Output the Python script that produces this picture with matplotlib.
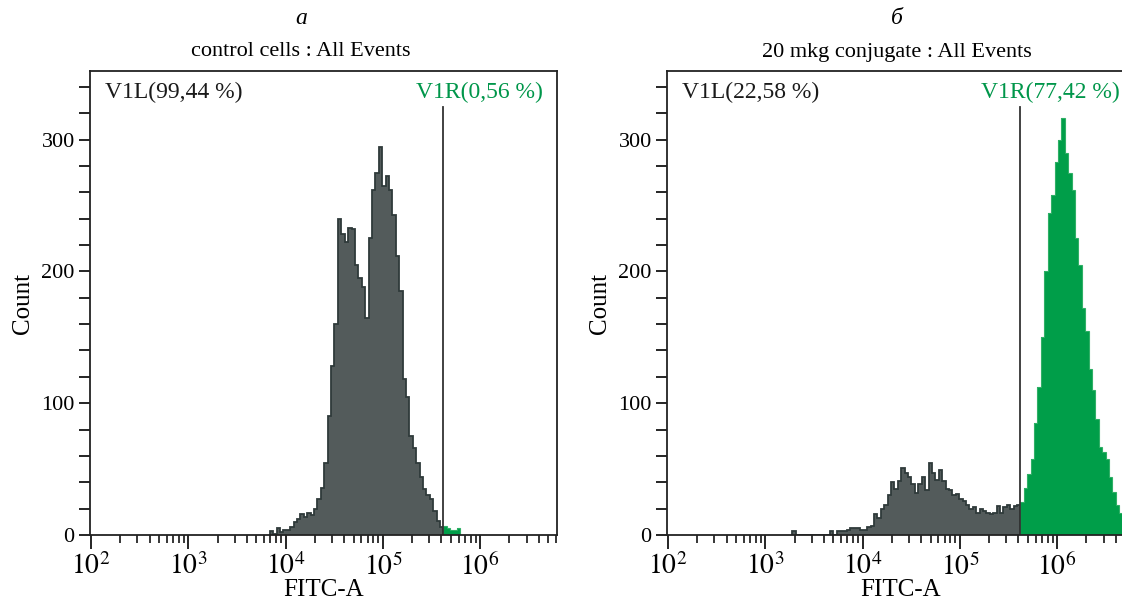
import numpy as np
import matplotlib
matplotlib.use("Agg")
import matplotlib.pyplot as plt
from matplotlib.ticker import LogLocator, MultipleLocator, NullFormatter, FixedLocator

plt.rcParams['font.family'] = ['Liberation Serif', 'DejaVu Serif']
plt.rcParams['mathtext.fontset'] = 'stix'

# histogram bins: log10 step per channel, gate position
BIN_STEP = 0.035
GATE = 10 ** 5.623

# control cells: counts below the gate (starting 51 bins left of it) and above it
ctrl_low = [3, 1, 5, 2, 4, 4, 6, 10, 12, 16, 14, 17, 15, 20, 27, 36, 55, 90, 128, 160,
            240, 228, 222, 233, 232, 205, 195, 188, 165, 225, 262, 275, 294, 265, 272,
            262, 243, 212, 185, 118, 105, 75, 66, 55, 44, 35, 30, 27, 18, 11, 6]
ctrl_high = [7, 5, 4, 4, 5]

# 20 mkg conjugate: counts below the gate (67 bins) and above it
conj_low = [3, 0, 0, 0, 0, 0, 0, 0, 0, 0, 0, 3, 0, 3, 3, 3, 4, 5, 5, 5, 4, 4, 6, 7, 16, 13,
            20, 23, 30, 40, 35, 41, 51, 47, 44, 39, 32, 39, 44, 34, 55, 47, 42, 49, 41, 35,
            34, 30, 31, 27, 26, 23, 20, 21, 17, 20, 18, 17, 16, 17, 22, 17, 21, 23, 20, 22, 23]
conj_high = [25, 36, 46, 58, 85, 112, 150, 200, 244, 258, 283, 300, 316, 290, 275, 262,
             225, 205, 172, 155, 126, 110, 88, 67, 63, 58, 44, 33, 23, 17]

titles = ["control cells : All Events", "20 mkg conjugate : All Events"]
letters = ["а", "б"]
left_pct = ["V1L(99,44 %)", "V1L(22,58 %)"]
right_pct = ["V1R(0,56 %)", "V1R(77,42 %)"]

DARK = '#535b5b'
DARK_EDGE = '#2f3a3a'
GREEN = '#009e49'
GREEN_TXT = '#00964a'

fig = plt.figure(figsize=(11.22, 6.02), dpi=100)
W, H = 1122, 602
axes = [fig.add_axes([90 / W, 67 / H, 467 / W, 464 / H]),
        fig.add_axes([667 / W, 67 / H, 467 / W, 464 / H])]
title_x = [301, 897]


def edges_for(n, before_gate):
    # channel edges on the log grid, aligned so one edge sits on the gate
    k = np.arange(n + 1) - before_gate
    return GATE * 10 ** (BIN_STEP * k)


for i, (ax, low, high) in enumerate(zip(axes, [ctrl_low, conj_low], [ctrl_high, conj_high])):
    e_low = edges_for(len(low), len(low))
    e_high = edges_for(len(high), 0)
    ax.stairs(low, e_low, fill=True, color=DARK)
    ax.stairs(low, e_low, color=DARK_EDGE, lw=1.3)
    ax.stairs(high, e_high, fill=True, color=GREEN)
    ax.stairs(high, e_high, color='#2fb066', lw=0.8)

    ax.axvline(GATE, ymin=0, ymax=0.922, color='#333333', lw=1.3)

    ax.set_xscale('log')
    ax.set_xlim(10 ** 1.99, 10 ** 6.79)
    ax.set_ylim(0, 352)

    ax.xaxis.set_major_locator(FixedLocator([1e2, 1e3, 1e4, 1e5, 1e6]))
    ax.set_xticklabels([r'$10^{2}$', r'$10^{3}$', r'$10^{4}$', r'$10^{5}$', r'$10^{6}$'])
    ax.xaxis.set_minor_locator(LogLocator(base=10, subs=np.arange(2, 10), numticks=20))
    ax.xaxis.set_minor_formatter(NullFormatter())
    ax.set_yticks([0, 100, 200, 300])
    ax.yaxis.set_minor_locator(MultipleLocator(20))

    ax.tick_params(axis='x', which='major', direction='out', length=10, width=1.2,
                   labelsize=20, pad=3)
    ax.tick_params(axis='x', which='minor', direction='out', length=6, width=1.1)
    ax.tick_params(axis='y', which='both', direction='out', length=8, width=1.2,
                   labelsize=16, pad=3)
    for s in ax.spines.values():
        s.set_linewidth(1.3)
        s.set_color('#222222')

    ax.set_xlabel('FITC-A', fontsize=18, labelpad=-1)
    ax.set_ylabel('Count', fontsize=18, labelpad=5)

    ax.text(0.032, 0.953, left_pct[i], transform=ax.transAxes, fontsize=17,
            ha='left', va='center', color='#1a1a1a')
    ax.text(0.970, 0.953, right_pct[i], transform=ax.transAxes, fontsize=17,
            ha='right', va='center', color=GREEN_TXT)

    fig.text(title_x[i] / W, 1 - 52 / H, titles[i], fontsize=16, ha='center', va='center')
    fig.text(title_x[i] / W, 1 - 18 / H, letters[i], fontsize=17, style='italic',
             ha='center', va='center')

fig.savefig('out.png', dpi=100)
